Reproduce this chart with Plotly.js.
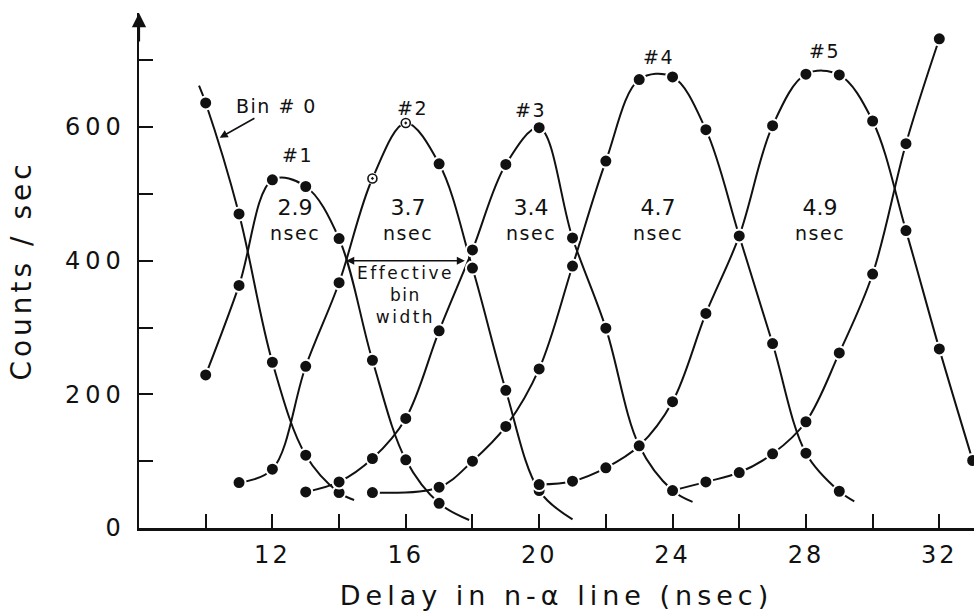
<!DOCTYPE html>
<html>
<head>
<meta charset="utf-8">
<script src="https://cdn.plot.ly/plotly-3.0.1.min.js"></script>
<style>
  html, body { margin: 0; padding: 0; background: #fff; }
  #chart { width: 974px; height: 615px; }
  .ytick text { letter-spacing: 5px; }
  .xtick text { letter-spacing: 3px; }
  text.xtitle { letter-spacing: 5px; }
  text.ytitle { letter-spacing: 4px; }
  text.annotation-text { letter-spacing: 1.5px; }
</style>
</head>
<body>
<div id="chart"></div>
<script>
// ---- data ----
const bin0X = [10, 11, 12, 13, 14];
const bin0Y = [636, 470, 248, 109, 53];
const bin0CurveStart = [9.8, 662];
const bin0CurveEnd = [14.45, 42];

const bin1X = [10, 11, 12, 13, 14, 15, 16, 17];
const bin1Y = [229, 363, 521, 511, 433, 251, 102, 37];
const bin1CurveEnd = [17.9, 12];

const bin2X = [11, 12, 13, 14, 15, 16, 17, 18, 19, 20];
const bin2Y = [68, 88, 242, 367, 523, 606, 545, 389, 206, 56];
const bin2CurveEnd = [21.0, 13];
const bin2OpenX = [15, 16];   // points drawn as open circles

const bin3X = [13, 14, 15, 16, 17, 18, 19, 20, 21, 22, 23, 24];
const bin3Y = [54, 69, 104, 164, 295, 416, 544, 599, 434, 299, 123, 56];
const bin3CurveEnd = [24.6, 39];

const bin4X = [15, 17, 18, 19, 20, 21, 22, 23, 24, 25, 26, 27, 28, 29];
const bin4Y = [53, 61, 100, 152, 238, 392, 549, 671, 675, 596, 437, 276, 112, 55];
const bin4CurveEnd = [29.45, 40];

const bin5X = [20, 21, 22, 23, 24, 25, 26, 27, 28, 29, 30, 31, 32, 33];
const bin5Y = [65, 70, 90, 123, 189, 321, 437, 602, 679, 678, 609, 445, 268, 101];

const bin6X = [24, 25, 26, 27, 28, 29, 30, 31, 32];
const bin6Y = [56, 69, 83, 111, 159, 262, 380, 575, 732];

const binNames = ['#1', '#2', '#3', '#4', '#5'];
const binWidths = ['2.9', '3.7', '3.4', '4.7', '4.9'];

const xTickVals = [10, 12, 14, 16, 18, 20, 22, 24, 26, 28, 30, 32];
const xTickText = ['', '12', '', '16', '', '20', '', '24', '', '28', '', '32'];
const yTickVals = [0, 100, 200, 300, 400, 500, 600, 700];
const yTickText = ['0', '', '200', '', '400', '', '600', ''];

// ---- build traces ----
const INK = '#111';
const FONT = 'DejaVu Sans, sans-serif';

function curve(xs, ys, start, end) {
  let cx = xs.slice(), cy = ys.slice();
  if (start) { cx.unshift(start[0]); cy.unshift(start[1]); }
  if (end) { cx.push(end[0]); cy.push(end[1]); }
  return {
    x: cx, y: cy, type: 'scatter', mode: 'lines', hoverinfo: 'skip',
    line: { color: INK, width: 2, shape: 'spline', smoothing: 1 }, showlegend: false
  };
}
function dots(xs, ys) {
  return {
    x: xs, y: ys, type: 'scatter', mode: 'markers', showlegend: false,
    marker: { symbol: 'circle', size: 13, color: INK, line: { color: '#fff', width: 2 } }
  };
}

const traces = [
  curve(bin0X, bin0Y, bin0CurveStart, bin0CurveEnd),
  curve(bin1X, bin1Y, null, bin1CurveEnd),
  curve(bin2X, bin2Y, null, bin2CurveEnd),
  curve(bin3X, bin3Y, null, bin3CurveEnd),
  curve(bin4X, bin4Y, null, bin4CurveEnd),
  curve(bin5X, bin5Y, null, null),
  curve(bin6X, bin6Y, null, null)
];

const bin2SolidX = [], bin2SolidY = [], bin2OpenPX = [], bin2OpenPY = [];
bin2X.forEach((x, i) => {
  if (bin2OpenX.includes(x)) { bin2OpenPX.push(x); bin2OpenPY.push(bin2Y[i]); }
  else { bin2SolidX.push(x); bin2SolidY.push(bin2Y[i]); }
});

traces.push(dots(bin0X, bin0Y), dots(bin1X, bin1Y), dots(bin2SolidX, bin2SolidY),
            dots(bin3X, bin3Y), dots(bin4X, bin4Y), dots(bin5X, bin5Y), dots(bin6X, bin6Y));
// open circles: white knock-out then open circle with centre dot
traces.push({
  x: bin2OpenPX, y: bin2OpenPY, type: 'scatter', mode: 'markers', showlegend: false, hoverinfo: 'skip',
  marker: { symbol: 'circle', size: 12, color: '#fff' }
});
traces.push({
  x: bin2OpenPX, y: bin2OpenPY, type: 'scatter', mode: 'markers', showlegend: false,
  marker: { symbol: 'circle-open-dot', size: 9, color: INK, line: { color: INK, width: 1.6 } }
});

// ---- annotations ----
const nameX = [12.74, 16.21, 19.75, 23.57, 28.56];
const nameY = [558, 629, 625, 705, 714];
const widthX = [12.67, 16.08, 19.75, 23.55, 28.41];
const annotations = [];
binNames.forEach((t, i) => annotations.push({
  x: nameX[i], y: nameY[i], xref: 'x', yref: 'y', text: t, showarrow: false,
  font: { family: FONT, size: 19, color: INK }
}));
binWidths.forEach((t, i) => annotations.push({
  x: widthX[i], y: 461, xref: 'x', yref: 'y',
  text: '<span style="font-size:22px;letter-spacing:0px">' + t + '</span><br>nsec', showarrow: false,
  font: { family: FONT, size: 19, color: INK }
}));
annotations.push({
  x: 16.0, y: 349, xref: 'x', yref: 'y',
  text: '<span style="letter-spacing:2.5px">Effective</span><br>bin<br><span style="letter-spacing:2.5px">width</span>',
  showarrow: false, font: { family: FONT, size: 17, color: INK }
});
annotations.push({
  x: 17.77, y: 400, xref: 'x', yref: 'y', ax: 14.17, ay: 400, axref: 'x', ayref: 'y',
  text: '', showarrow: true, arrowside: 'end+start', arrowhead: 2, arrowsize: 1,
  arrowwidth: 1.6, arrowcolor: INK
});
annotations.push({
  x: 10.42, y: 584, xref: 'x', yref: 'y', ax: 57, ay: -32,
  text: 'Bin # 0', showarrow: true, arrowhead: 2, arrowsize: 1, arrowwidth: 1.6,
  arrowcolor: INK, font: { family: FONT, size: 19, color: INK }
});
// arrow tip on the y axis
annotations.push({
  x: 8, y: 770.6, xref: 'x', yref: 'y', ax: 0, ay: 30, text: '', showarrow: true,
  arrowhead: 2, arrowsize: 1.3, arrowwidth: 2.2, arrowcolor: INK
});

const layout = {
  width: 974, height: 615,
  margin: { l: 139, r: 0, t: 13, b: 87 },
  paper_bgcolor: '#fff', plot_bgcolor: '#fff',
  showlegend: false,
  xaxis: {
    range: [8, 33.04], showgrid: false, zeroline: false,
    showline: true, linecolor: INK, linewidth: 2.5,
    ticks: 'inside', ticklen: 14, tickwidth: 2, tickcolor: INK,
    tickmode: 'array', tickvals: xTickVals, ticktext: xTickText,
    tickfont: { family: FONT, size: 24, color: INK },
    ticklabelstandoff: 4,
    title: { text: 'Delay in n-α line (nsec)', font: { family: FONT, size: 27, color: INK }, standoff: 18 }
  },
  yaxis: {
    range: [0, 770.6], showgrid: false, zeroline: false,
    showline: true, linecolor: INK, linewidth: 2.5,
    ticks: 'inside', ticklen: 14, tickwidth: 2, tickcolor: INK,
    tickmode: 'array', tickvals: yTickVals, ticktext: yTickText,
    tickfont: { family: FONT, size: 24, color: INK },
    ticklabelstandoff: 6,
    title: { text: 'Counts / sec', font: { family: FONT, size: 28, color: INK }, standoff: 25 }
  },
  annotations: annotations
};

Plotly.newPlot('chart', traces, layout, { staticPlot: true, displayModeBar: false });
</script>
</body>
</html>
